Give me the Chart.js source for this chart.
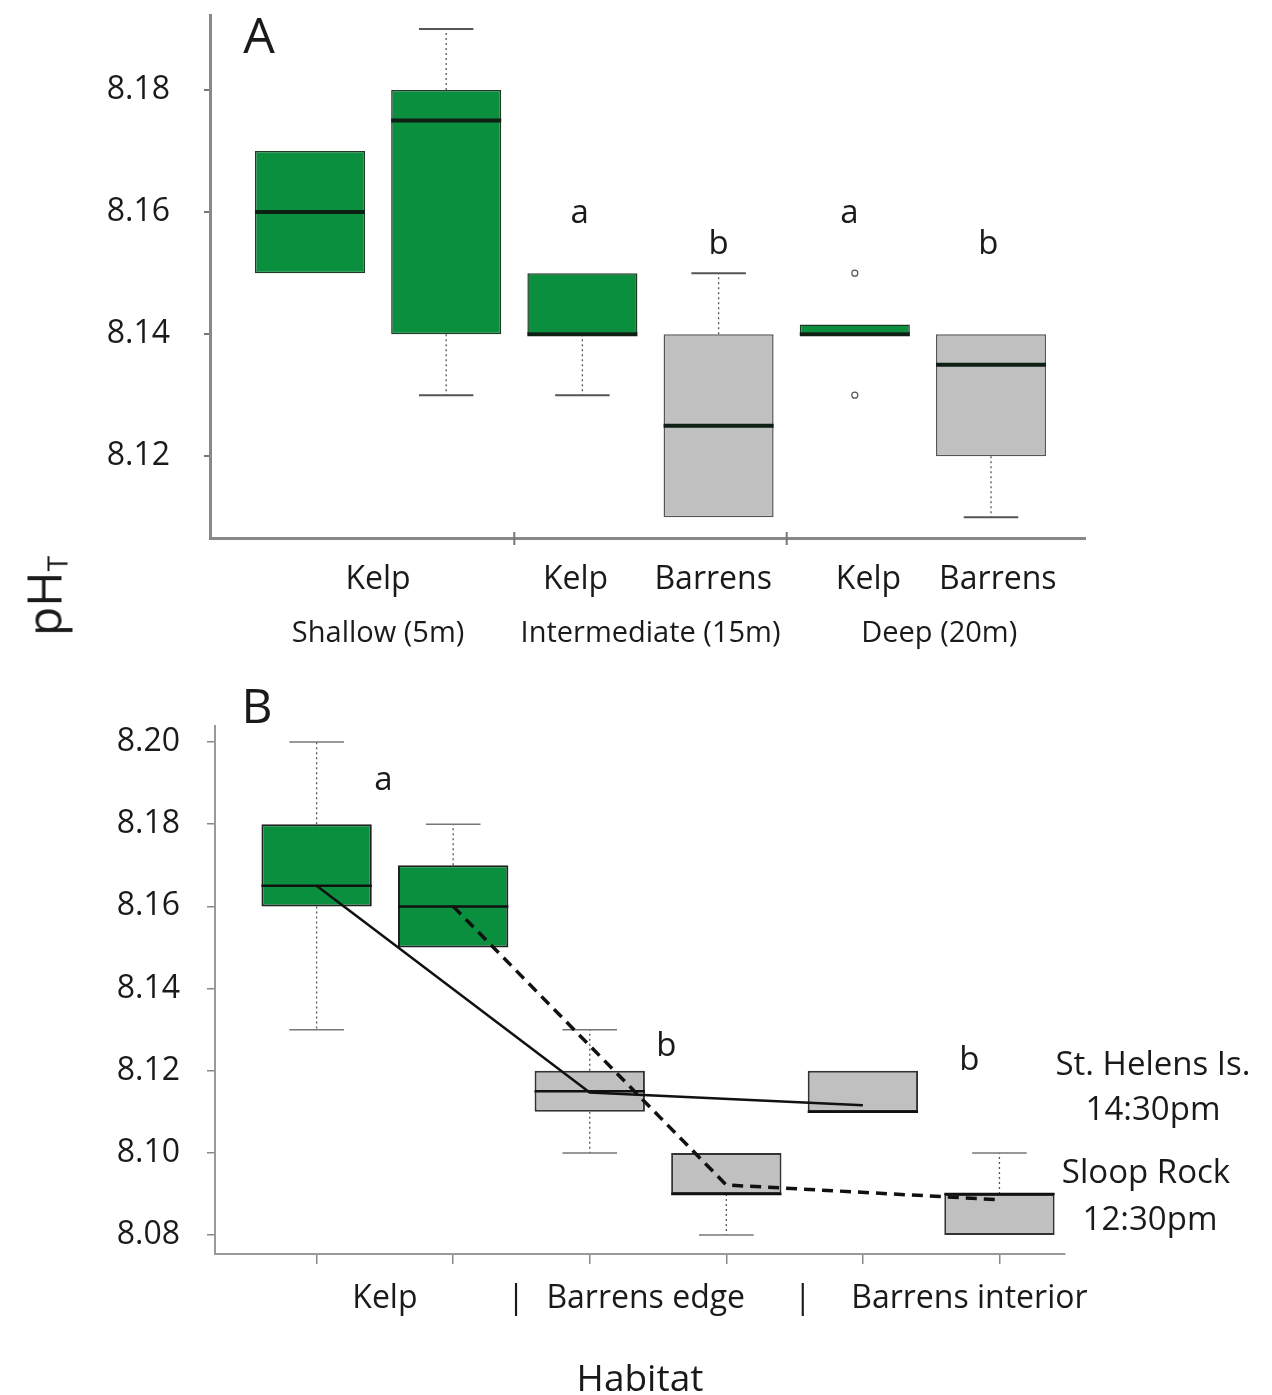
<!DOCTYPE html>
<html><head><meta charset="utf-8">
<script src="https://cdn.jsdelivr.net/npm/chart.js@4.4.1/dist/chart.umd.min.js"></script>
<style>
html,body{margin:0;padding:0;background:#fff;}
body{width:1272px;height:1395px;position:relative;overflow:hidden;font-family:'Open Sans',sans-serif;color:#1a1a1a;}
#wa{position:absolute;left:0;top:0;width:1272px;height:680px;}
#wb{position:absolute;left:0;top:680px;width:1272px;height:715px;}
.lbl{position:absolute;white-space:nowrap;transform:translate(-50%,-50%);line-height:1;}
#ph{position:absolute;left:45px;top:596px;transform:translate(-50%,-50%) rotate(-90deg);font-size:48px;line-height:1;white-space:nowrap;}
#ph sub{font-size:28px;vertical-align:-6px;}
</style></head><body>
<div id="wa"><canvas id="ca"></canvas></div>
<div id="wb"><canvas id="cb"></canvas></div>
<div class="lbl" style="left:259px;top:34px;font-size:50px">A</div>
<div class="lbl" style="left:257px;top:705px;font-size:48px">B</div>
<div id="ph">pH<sub>T</sub></div>
<div class="lbl" style="left:1153px;top:1062px;font-size:33px">St. Helens Is.</div>
<div class="lbl" style="left:1153px;top:1107px;font-size:33px">14:30pm</div>
<div class="lbl" style="left:1146px;top:1170px;font-size:33px">Sloop Rock</div>
<div class="lbl" style="left:1150px;top:1217px;font-size:33px">12:30pm</div>
<script>
// ---------- Panel A data (depth x habitat) ----------
const A_HABITAT = ['Kelp','Kelp','Kelp','Barrens','Kelp','Barrens'];
const A_Q1  = [8.150, 8.140, 8.140, 8.110, 8.1400, 8.120];
const A_Q3  = [8.170, 8.180, 8.150, 8.140, 8.1416, 8.140];
const A_MED = [8.160, 8.175, 8.140, 8.125, 8.1400, 8.135];
const A_WLO = [null, 8.130, 8.130, null, null, 8.110];
const A_WHI = [null, 8.190, null, 8.150, null, null];
const A_OUT_IDX = [4, 4];
const A_OUT_VAL = [8.150, 8.130];
const A_YTICKS = [8.12, 8.14, 8.16, 8.18];
const A_XTICKS = [0, 1, 2, 3, 4, 5];
const A_XLABELS = ['Kelp','Kelp','Barrens','Kelp','Barrens'];
const A_XLABEL_AT = [0.5, 1.95, 2.96, 4.1, 5.05];
const A_GROUPS = ['Shallow (5m)','Intermediate (15m)','Deep (20m)'];
const A_GROUP_AT = [0.5, 2.5, 4.62];
const A_GROUP_SEP = [1.5, 3.5];
const A_SIG = ['a','b','a','b'];
const A_SIG_X = [1.98, 3.0, 3.96, 4.98];
const A_SIG_Y = [8.1597, 8.1546, 8.1597, 8.1546];

// ---------- Panel B data (habitat transect) ----------
const B_HABITAT = ['Kelp','Kelp','Barrens','Barrens','Barrens','Barrens'];
const B_Q1  = [8.160, 8.150, 8.110, 8.090, 8.110, 8.080];
const B_Q3  = [8.180, 8.170, 8.120, 8.100, 8.120, 8.090];
const B_MED = [8.165, 8.160, 8.115, 8.090, 8.110, 8.090];
const B_WLO = [8.130, null, 8.100, 8.080, null, null];
const B_WHI = [8.200, 8.180, 8.130, null, null, 8.100];
const B_YTICKS = [8.08, 8.10, 8.12, 8.14, 8.16, 8.18, 8.20];
const B_XTICKS = [0, 1, 2, 3, 4, 5];
const B_XLABELS = ['Kelp','|','Barrens edge','|','Barrens interior'];
const B_XLABEL_AT = [0.5, 1.46, 2.41, 3.56, 4.78];
const STH_X = [0, 2, 4];
const STH_Y = [8.165, 8.1147, 8.1116];
const SLR_X = [1, 3, 5];
const SLR_Y = [8.160, 8.0922, 8.0886];
const B_SIG = ['a','b','b'];
const B_SIG_X = [0.49, 2.56, 4.78];
const B_SIG_Y = [8.1905, 8.1259, 8.1224];

// ---------- styling ----------
const GREEN = '#0a8f3f', GREY = '#c0c0c0';
const BOX_FRAC = 0.808, CAP_HALF = 0.2;
Chart.defaults.font.family = "'Open Sans', sans-serif";
Chart.defaults.color = '#1a1a1a';

function boxSets(q1,q3,med,wlo,whi,hab,st){
  const idx = q1.map((_,i)=>i), h = BOX_FRAC/2;
  const seg = (a,b,y1,y2)=>[{x:a,y:y1},{x:b,y:y2},{x:a,y:null}];
  const med_d = [], wk = [], cap = [];
  idx.forEach(i=>{
    med_d.push(...seg(i-h,i+h,med[i],med[i]));
    if (whi[i]!=null){ wk.push(...seg(i,i,q3[i],whi[i])); cap.push(...seg(i-CAP_HALF,i+CAP_HALF,whi[i],whi[i])); }
    if (wlo[i]!=null){ wk.push(...seg(i,i,q1[i],wlo[i])); cap.push(...seg(i-CAP_HALF,i+CAP_HALF,wlo[i],wlo[i])); }
  });
  return [
    {type:'bar', data: idx.map(i=>({x:i,y:[q1[i],q3[i]]})),
     backgroundColor: hab.map(v=>v==='Kelp'?GREEN:GREY),
     borderColor: hab.map(v=>v==='Kelp'?st.kelpEdge:st.greyEdge),
     borderWidth: st.boxLW, borderSkipped:false, barPercentage:BOX_FRAC, categoryPercentage:1, grouped:false, order:10},
    {type:'line', data: wk, borderColor:'#555', borderWidth:1.3, borderDash:[2,3], pointRadius:0, spanGaps:false, order:11},
    {type:'line', data: cap, borderColor: st.capColor, borderWidth: st.capLW, pointRadius:0, spanGaps:false, order:9},
    {type:'line', data: med_d, borderColor: st.medColor, borderWidth: st.medLW, pointRadius:0, spanGaps:false, order:8}
  ];
}

const textPlugin = {
  id:'txt',
  afterDatasetsDraw(chart, args, o){
    const {ctx, chartArea} = chart, x = chart.scales.x, y = chart.scales.y;
    ctx.save();
    ctx.font = o.font; ctx.fillStyle = '#1a1a1a'; ctx.textAlign='center'; ctx.textBaseline='middle';
    o.text.forEach((t,i)=>ctx.fillText(t, x.getPixelForValue(o.xs[i]), y.getPixelForValue(o.ys[i])));
    ctx.strokeStyle = '#777'; ctx.lineWidth = 2;
    (o.seps||[]).forEach(v=>{ const px = x.getPixelForValue(v); ctx.beginPath(); ctx.moveTo(px, chartArea.bottom-6); ctx.lineTo(px, chartArea.bottom+7); ctx.stroke(); });
    ctx.restore();
  }
};

function fixW(w){ return s=>{ s.width = w; s.paddingTop=0; s.paddingBottom=0; }; }
function fixH(hh){ return s=>{ s.height = hh; s.paddingLeft=0; s.paddingRight=0; }; }
function setTicks(vals){ return s=>{ s.ticks = vals.map(v=>({value:v})); }; }

// ---------- Chart A ----------
const aSets = boxSets(A_Q1,A_Q3,A_MED,A_WLO,A_WHI,A_HABITAT,{kelpEdge:'#1d3a25',greyEdge:'#555',boxLW:1.5,medColor:'#0e1f14',medLW:4,capColor:'#555',capLW:2});
aSets.push({type:'scatter', data: A_OUT_IDX.map((v,i)=>({x:v,y:A_OUT_VAL[i]})), pointRadius:3, pointBorderWidth:1.2, pointBorderColor:'#555', pointBackgroundColor:'#fff', order:1});

new Chart(document.getElementById('ca'), {
  type:'bar',
  data:{datasets:aSets},
  plugins:[textPlugin],
  options:{
    responsive:true, maintainAspectRatio:false, animation:false, events:[],
    layout:{padding:{left:0,top:15,right:187,bottom:0}},
    plugins:{legend:{display:false}, tooltip:{enabled:false},
      txt:{font:"33px 'Open Sans'", text:A_SIG, xs:A_SIG_X, ys:A_SIG_Y, seps:A_GROUP_SEP}},
    scales:{
      y:{type:'linear', min:8.1066, max:8.1923, position:'left',
         afterBuildTicks:setTicks(A_YTICKS), afterFit:fixW(210),
         ticks:{padding:34, font:{size:32}, color:'#1a1a1a', callback:v=>v.toFixed(2)},
         grid:{drawOnChartArea:false, drawTicks:true, tickLength:6, color:'#777', lineWidth:2},
         border:{color:'#888', width:3}},
      x:{type:'linear', min:-0.734, max:5.69, position:'bottom', offset:false, weight:0,
         afterBuildTicks:setTicks(A_XTICKS), afterFit:fixH(0),
         ticks:{display:false}, grid:{display:false, offset:false}, border:{color:'#888', width:3}},
      x2:{type:'linear', min:-0.734, max:5.69, position:'bottom', offset:false, weight:1,
         afterBuildTicks:setTicks(A_XLABEL_AT), afterFit:fixH(60),
         ticks:{padding:15, font:{size:32}, color:'#1a1a1a', autoSkip:false, maxRotation:0, callback:(v,i)=>A_XLABELS[i]},
         grid:{display:false, offset:false}, border:{display:false}},
      x3:{type:'linear', min:-0.734, max:5.69, position:'bottom', offset:false, weight:2,
         afterBuildTicks:setTicks(A_GROUP_AT), afterFit:fixH(82),
         ticks:{padding:10, font:{size:29}, color:'#1a1a1a', autoSkip:false, maxRotation:0, callback:(v,i)=>A_GROUPS[i]},
         grid:{display:false, offset:false}, border:{display:false}}
    }
  }
});

// ---------- Chart B ----------
const bSets = [
  {type:'line', data: STH_X.map((v,i)=>({x:v,y:STH_Y[i]})), borderColor:'#111', borderWidth:2.5, pointRadius:0, order:1},
  {type:'line', data: SLR_X.map((v,i)=>({x:v,y:SLR_Y[i]})), borderColor:'#111', borderWidth:3.5, borderDash:[11,7], pointRadius:0, order:2}
].concat(boxSets(B_Q1,B_Q3,B_MED,B_WLO,B_WHI,B_HABITAT,{kelpEdge:'#222',greyEdge:'#333',boxLW:2,medColor:'#111',medLW:2.5,capColor:'#777',capLW:1.5}));

new Chart(document.getElementById('cb'), {
  type:'bar',
  data:{datasets:bSets},
  plugins:[textPlugin],
  options:{
    responsive:true, maintainAspectRatio:false, animation:false, events:[],
    layout:{padding:{left:0,top:46,right:207,bottom:0}},
    plugins:{legend:{display:false}, tooltip:{enabled:false},
      txt:{font:"33px 'Open Sans'", text:B_SIG, xs:B_SIG_X, ys:B_SIG_Y}},
    scales:{
      y:{type:'linear', min:8.0754, max:8.2039, position:'left',
         afterBuildTicks:setTicks(B_YTICKS), afterFit:fixW(215),
         ticks:{padding:27, font:{size:32}, color:'#1a1a1a', callback:v=>v.toFixed(2)},
         grid:{drawOnChartArea:false, drawTicks:true, tickLength:8, color:'#888', lineWidth:1.5},
         border:{color:'#999', width:2}},
      x:{type:'linear', min:-0.744, max:5.48, position:'bottom', offset:false, weight:0,
         afterBuildTicks:setTicks(B_XTICKS), afterFit:fixH(10),
         ticks:{display:false},
         grid:{drawOnChartArea:false, drawTicks:true, tickLength:10, color:'#888', lineWidth:1.5, offset:false},
         border:{color:'#999', width:2}},
      x2:{type:'linear', min:-0.744, max:5.48, position:'bottom', offset:false, weight:1,
         afterBuildTicks:setTicks(B_XLABEL_AT), afterFit:fixH(131),
         ticks:{padding:8, font:{size:32}, color:'#1a1a1a', autoSkip:false, maxRotation:0, callback:(v,i)=>B_XLABELS[i]},
         grid:{display:false, offset:false}, border:{display:false},
         title:{display:true, text:'Habitat', font:{size:37, lineHeight:0.8}, color:'#1a1a1a', padding:{top:0,bottom:0}}}
    }
  }
});
</script>
</body></html>
